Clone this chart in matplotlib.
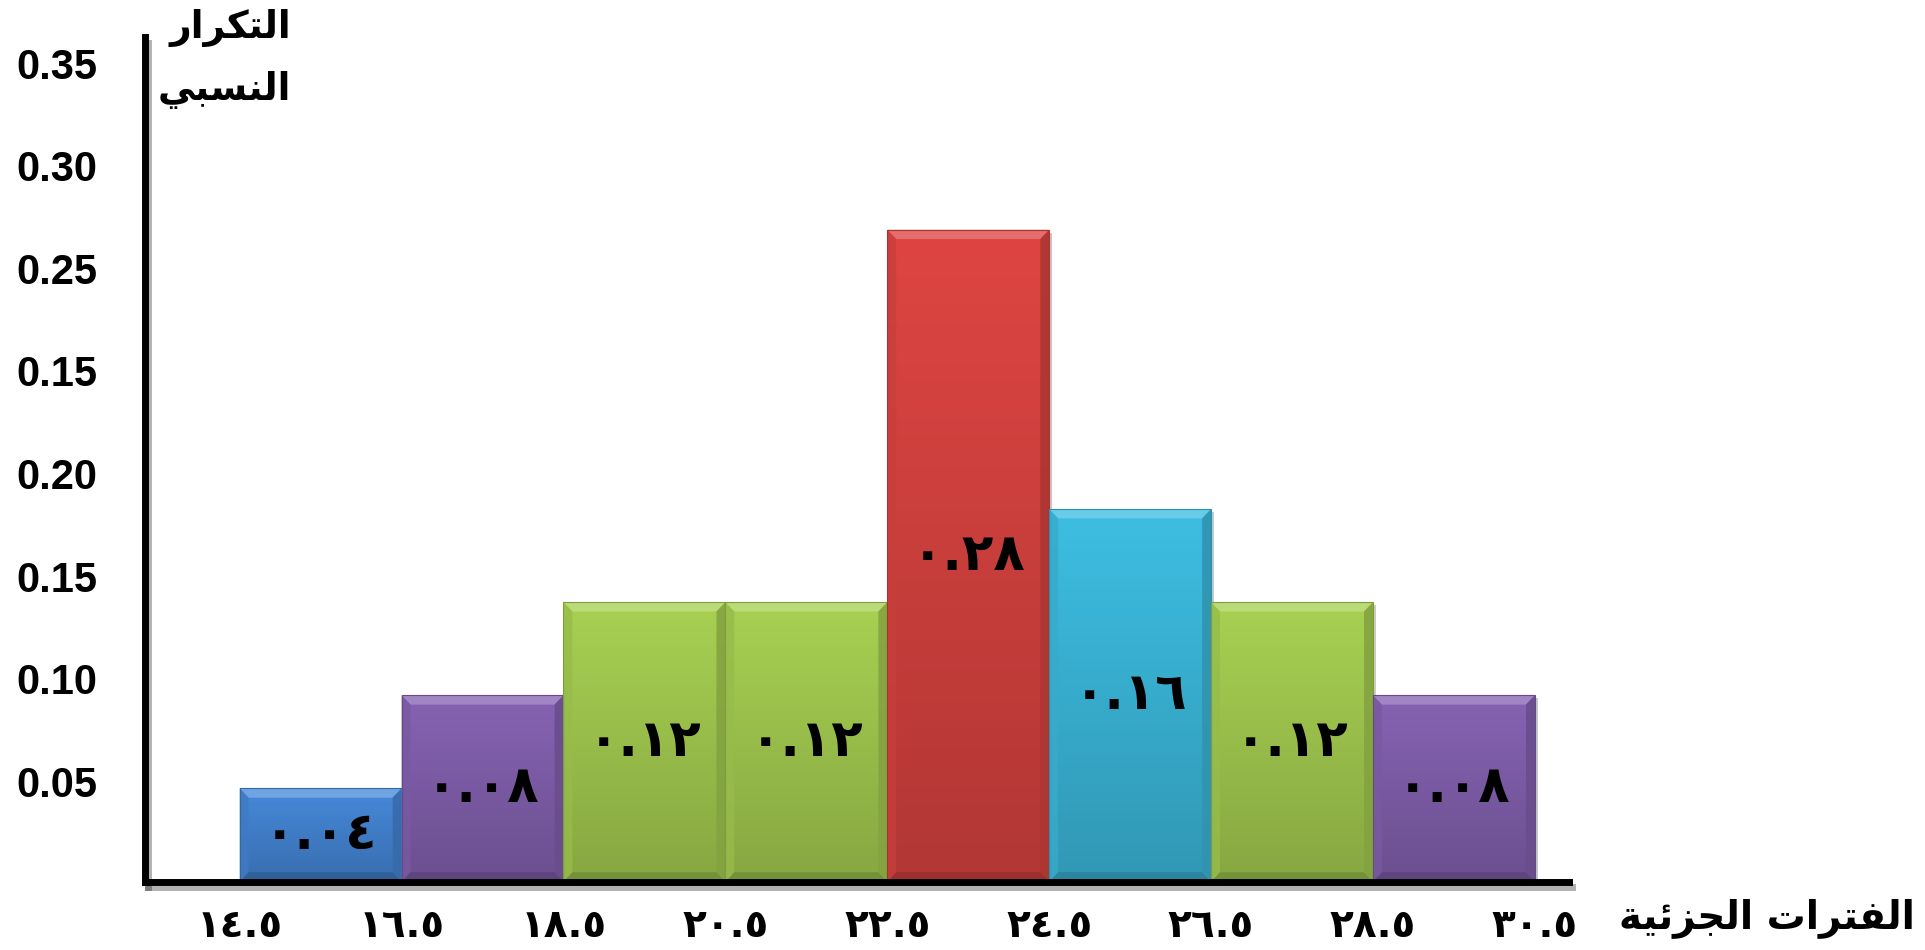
import matplotlib
matplotlib.use('Agg')
import matplotlib.pyplot as plt
import matplotlib.patches as patches
import matplotlib.patheffects as pe
import matplotlib.colors as mcolors
import matplotlib.transforms as mtransforms
import numpy as np

# class boundaries and relative frequencies
edges = [14.5, 16.5, 18.5, 20.5, 22.5, 24.5, 26.5, 28.5, 30.5]
rel_freq = [0.04, 0.08, 0.12, 0.12, 0.28, 0.16, 0.12, 0.08]
bar_colors = ['#4689da', '#8663b3', '#a8d152', '#a8d152', '#de4542',
              '#3dbee2', '#a8d152', '#8663b3']
y_tick_labels = ['0.05', '0.10', '0.15', '0.20', '0.15', '0.25', '0.30', '0.35']
y_title = ['التكرار', 'النسبي']
x_title = 'الفترات الجزئية'

ARABIC_DIGITS = str.maketrans('0123456789', '٠١٢٣٤٥٦٧٨٩')

# presentation forms: isolated, final, initial, medial
FORMS = {
    'ا': (0xFE8D, 0xFE8E, None, None),
    'ب': (0xFE8F, 0xFE90, 0xFE91, 0xFE92),
    'ة': (0xFE93, 0xFE94, None, None),
    'ت': (0xFE95, 0xFE96, 0xFE97, 0xFE98),
    'ج': (0xFE9D, 0xFE9E, 0xFE9F, 0xFEA0),
    'ر': (0xFEAD, 0xFEAE, None, None),
    'ز': (0xFEAF, 0xFEB0, None, None),
    'س': (0xFEB1, 0xFEB2, 0xFEB3, 0xFEB4),
    'ف': (0xFED1, 0xFED2, 0xFED3, 0xFED4),
    'ك': (0xFED9, 0xFEDA, 0xFEDB, 0xFEDC),
    'ل': (0xFEDD, 0xFEDE, 0xFEDF, 0xFEE0),
    'ن': (0xFEE5, 0xFEE6, 0xFEE7, 0xFEE8),
    'ي': (0xFEF1, 0xFEF2, 0xFEF3, 0xFEF4),
    'ئ': (0xFE89, 0xFE8A, 0xFE8B, 0xFE8C),
}


def shape_word(word):
    out = []
    for i, ch in enumerate(word):
        iso, fin, ini, med = FORMS[ch]
        joins_prev = i > 0 and FORMS[word[i - 1]][2] is not None
        joins_next = i < len(word) - 1 and ini is not None
        if joins_prev and joins_next:
            c = med
        elif joins_prev:
            c = fin
        elif joins_next:
            c = ini
        else:
            c = iso
        out.append(chr(c))
    return ''.join(reversed(out))


def rtl(text):
    return ' '.join(shape_word(w) for w in reversed(text.split()))


def shade(color, f):
    c = np.array(mcolors.to_rgb(color))
    if f >= 0:
        return tuple(c + (1 - c) * f)
    return tuple(c * (1 + f))


ARAB_FONT = dict(family='DejaVu Sans', fontweight='bold')

fig = plt.figure(figsize=(19.25, 9.5), dpi=100)
ax = fig.add_axes([0.0753, 0.0721, 0.7397, 0.8889])
ax.set_xlim(13.33, 30.92)
ax.set_ylim(0, 0.3628)

lefts = edges[:-1]
widths = np.diff(edges)
bars = ax.bar(lefts, rel_freq, width=widths, align='edge', color=bar_colors,
              edgecolor='none', zorder=2)

bev_x, bev_y = 0.11, 0.0040
grad = np.linspace(0, 1, 256).reshape(-1, 1)
for rect, col in zip(bars, bar_colors):
    x0, w, h = rect.get_x(), rect.get_width(), rect.get_height()
    x1 = x0 + w
    rect.set_path_effects([pe.SimplePatchShadow(offset=(2, -2), alpha=0.25), pe.Normal()])
    cmap = mcolors.LinearSegmentedColormap.from_list('g', [shade(col, -0.2), col])
    im = ax.imshow(grad, extent=[x0, x1, 0, h], origin='lower', cmap=cmap,
                   aspect='auto', zorder=3)
    im.set_clip_path(rect)
    # bevel edges
    ax.add_patch(patches.Polygon([(x0, h), (x1, h), (x1 - bev_x, h - bev_y), (x0 + bev_x, h - bev_y)],
                                 closed=True, facecolor=shade(col, 0.22), edgecolor='none', zorder=4))
    ax.add_patch(patches.Polygon([(x0, 0), (x1, 0), (x1 - bev_x, bev_y), (x0 + bev_x, bev_y)],
                                 closed=True, facecolor=shade(col, -0.3), edgecolor='none', zorder=4))
    ax.add_patch(patches.Polygon([(x0, 0), (x0, h), (x0 + bev_x, h - bev_y), (x0 + bev_x, bev_y)],
                                 closed=True, facecolor=shade(col, -0.1), edgecolor='none',
                                 alpha=0.8, zorder=4))
    ax.add_patch(patches.Polygon([(x1, 0), (x1, h), (x1 - bev_x, h - bev_y), (x1 - bev_x, bev_y)],
                                 closed=True, facecolor=shade(col, -0.22), edgecolor='none',
                                 alpha=0.9, zorder=4))
    ax.add_patch(patches.Rectangle((x0, 0), w, h, fill=False, edgecolor=shade(col, -0.25),
                                   lw=0.8, zorder=5))
    ax.text(x0 + w / 2, h / 2, f'{h:.2f}'.translate(ARABIC_DIGITS), ha='center', va='center',
            fontsize=37, zorder=6, **ARAB_FONT)

ax.set_xticks(edges)
ax.set_xticklabels([f'{e:.1f}'.translate(ARABIC_DIGITS) for e in edges], fontsize=28, **ARAB_FONT)
shift = mtransforms.ScaledTranslation(-10 / 100, 0, fig.dpi_scale_trans)
for lab in ax.get_xticklabels():
    lab.set_transform(lab.get_transform() + shift)
ax.set_yticks(np.linspace(0.0431, 0.3515, len(y_tick_labels)))
ax.set_yticklabels(y_tick_labels, fontsize=30, family='Liberation Sans', fontweight='bold')
ax.tick_params(axis='both', length=0)
ax.tick_params(axis='y', pad=34)
ax.tick_params(axis='x', pad=18)

for side in ['top', 'right']:
    ax.spines[side].set_visible(False)
for side in ['left', 'bottom']:
    ax.spines[side].set_linewidth(5)
    ax.spines[side].set_zorder(7)
    ax.spines[side].set_path_effects([pe.SimpleLineShadow(offset=(2, -4), alpha=0.3),
                                      pe.Normal()])

fig.text(0.151, 0.971, rtl(y_title[0]), ha='right', va='center', fontsize=27, **ARAB_FONT)
fig.text(0.151, 0.905, rtl(y_title[1]), ha='right', va='center', fontsize=27, **ARAB_FONT)
fig.text(0.918, 0.034, rtl(x_title), ha='center', va='center', fontsize=28, **ARAB_FONT)

fig.savefig('out.png', dpi=100, facecolor='white')
